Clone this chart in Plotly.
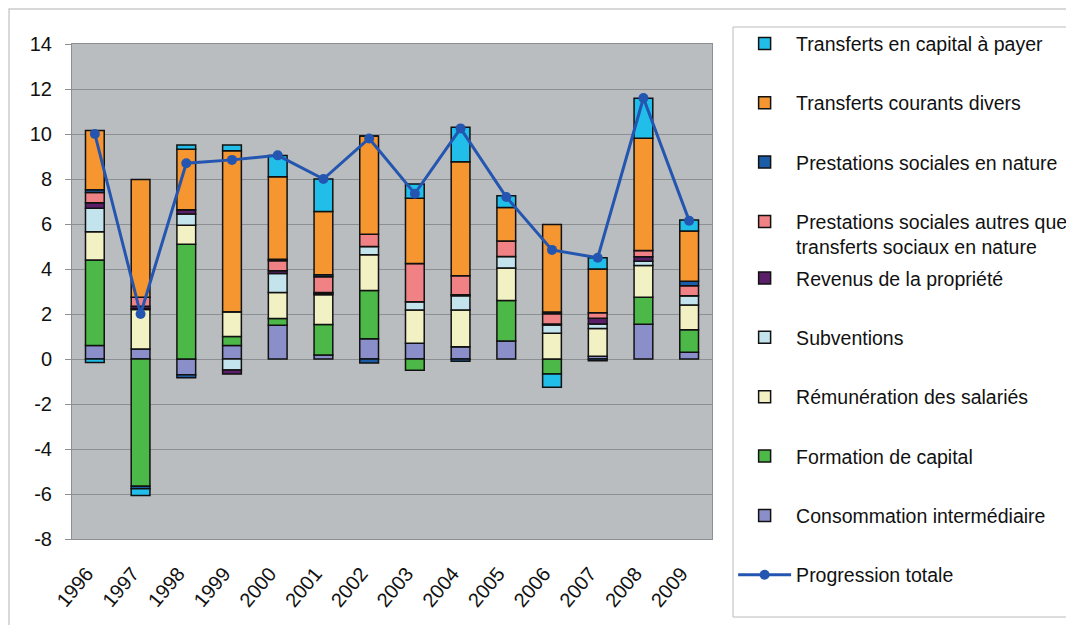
import plotly.graph_objects as go

# Années
annees = ["1996", "1997", "1998", "1999", "2000", "2001", "2002",
          "2003", "2004", "2005", "2006", "2007", "2008", "2009"]

# Contributions (points de %)
conso_inter = [0.6, 0.45, -0.7, 0.6, 1.5, 0.18, 0.9, 0.7, 0.55, 0.8, 0.0, 0.12, 1.55, 0.3]
formation_capital = [3.8, -5.65, 5.1, 0.4, 0.3, 1.35, 2.15, -0.5, 0.0, 1.8, -0.67, 0.0, 1.2, 1.0]
remuneration = [1.26, 1.75, 0.85, 1.1, 1.16, 1.33, 1.58, 1.48, 1.63, 1.45, 1.14, 1.24, 1.41, 1.1]
subventions = [1.04, 0.05, 0.5, -0.49, 0.84, 0.05, 0.37, 0.37, 0.63, 0.51, 0.37, 0.2, 0.18, 0.41]
revenus_propriete = [0.25, 0.1, 0.18, -0.18, 0.12, 0.05, 0.0, 0.0, 0.05, 0.0, 0.05, 0.25, 0.2, 0.0]
prest_autres = [0.45, 0.4, 0.0, 0.0, 0.45, 0.7, 0.54, 1.7, 0.84, 0.68, 0.45, 0.25, 0.28, 0.45]
prest_nature = [0.12, -0.12, -0.13, 0.0, 0.06, 0.08, -0.18, 0.0, -0.1, 0.0, 0.08, -0.08, 0.0, 0.2]
transf_courants = [2.64, 5.23, 2.69, 7.16, 3.67, 2.81, 4.37, 2.89, 5.07, 1.49, 3.89, 1.94, 4.99, 2.23]
transf_capital = [-0.15, -0.3, 0.19, 0.25, 0.94, 1.45, 0.0, 0.64, 1.53, 0.53, -0.59, 0.5, 1.78, 0.49]

progression_totale = [10.0, 2.0, 8.7, 8.85, 9.05, 8.0, 9.8, 7.35, 10.25, 7.2, 4.85, 4.5, 11.6, 6.15]

# Graduations de l'axe vertical (tiret simple comme dans l'original)
y_ticks = [-8, -6, -4, -2, 0, 2, 4, 6, 8, 10, 12, 14]
y_ticktext = ["-8", "-6", "-4", "-2", "0", "2", "4", "6", "8", "10", "12", "14"]

# (nom, valeurs, couleur, rang dans la légende, légende)
# la légende est coupée en deux blocs pour garder l'espacement régulier
series = [
    ("Consommation intermédiaire", conso_inter, "#8A8FC9", 9, "legend2"),
    ("Formation de capital", formation_capital, "#4CB848", 8, "legend2"),
    ("Rémunération des salariés", remuneration, "#F2F1C4", 7, "legend2"),
    ("Subventions", subventions, "#C3E4EC", 6, "legend2"),
    ("Revenus de la propriété", revenus_propriete, "#5B1F6A", 5, "legend2"),
    ("Prestations sociales autres que<br>transferts sociaux en nature", prest_autres, "#F08285", 4, "legend"),
    ("Prestations sociales en nature", prest_nature, "#1A5DA6", 3, "legend"),
    ("Transferts courants divers", transf_courants, "#F59631", 2, "legend"),
    ("Transferts en capital à payer", transf_capital, "#21BEEA", 1, "legend"),
]

fig = go.Figure()
for nom, valeurs, couleur, rang, leg in series:
    fig.add_trace(go.Bar(
        x=annees,
        y=valeurs,
        name=nom,
        marker=dict(color=couleur, line=dict(color="#111111", width=1.5)),
        legendrank=rang,
        legendgroup=nom,
        legend=leg,
    ))

fig.add_trace(go.Scatter(
    x=annees,
    y=progression_totale,
    mode="lines+markers",
    name="Progression totale",
    line=dict(color="#2455B0", width=3),
    marker=dict(color="#2455B0", size=10),
    legendrank=10,
    legendgroup="total",
    legend="legend2",
))

legende_style = dict(
    xanchor="left", yanchor="top",
    bgcolor="rgba(0,0,0,0)", borderwidth=0,
    font=dict(size=19.5),
    tracegroupgap=31,
    itemwidth=53,
    valign="top",
    maxheight=620,
)

# la page html ajoute 8 px de marge autour du graphique :
# figure réduite de 16 px et marges décalées pour éviter le défilement
fig.update_layout(
    width=1058,
    height=617,
    barmode="relative",
    bargap=0.59,
    plot_bgcolor="#B9BDBF",
    paper_bgcolor="white",
    font=dict(family="Liberation Sans, Arial, sans-serif", size=20, color="#111111"),
    margin=dict(l=64, r=354, t=36, b=86, autoexpand=False),
    showlegend=True,
    legend=dict(x=1.033, y=1.040, **legende_style),
    legend2=dict(x=1.033, y=0.566, **legende_style),
    xaxis=dict(
        range=[-0.5, 13.5],
        tickangle=-50,
        ticks="",
        ticklabelstandoff=14,
        ticklabelshift=-8,
        showgrid=False,
        showline=True, linecolor="#8C9092", linewidth=1, mirror=True,
        tickfont=dict(size=20),
        automargin=False,
    ),
    yaxis=dict(
        range=[-8, 14],
        tickvals=y_ticks,
        ticktext=y_ticktext,
        showgrid=True, gridcolor="#8C9092", gridwidth=1,
        zeroline=False,
        ticks="outside", ticklen=6, tickcolor="#8C9092",
        ticklabelstandoff=9,
        showline=True, linecolor="#8C9092", linewidth=1, mirror=True,
        tickfont=dict(size=20),
        automargin=False,
    ),
    shapes=[
        # cadre extérieur
        dict(type="rect", xref="paper", yref="paper",
             x0=-0.0984, y0=1.0707, x1=1.7, y1=-0.3,
             line=dict(color="#CCCCCC", width=1.5), fillcolor="rgba(0,0,0,0)",
             layer="below"),
        # cadre de la légende
        dict(type="rect", xref="paper", yref="paper",
             x0=1.0328, y0=1.0343, x1=1.7, y1=-0.1576,
             line=dict(color="#BBBBBB", width=1), fillcolor="white",
             layer="below"),
    ],
)

fig.write_html("out.html")
